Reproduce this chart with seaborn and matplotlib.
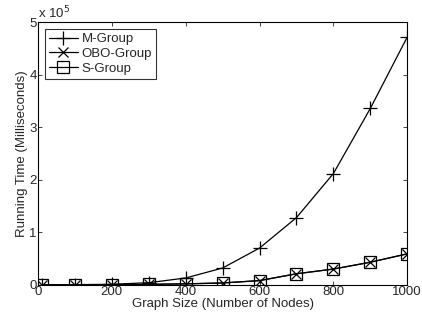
import matplotlib
matplotlib.use("Agg")
import matplotlib.pyplot as plt
import seaborn as sns
import pandas as pd

sizes = [10, 100, 200, 300, 400, 500, 600, 700, 800, 900, 1000]
m_group = [0.0, 300, 1000, 4000, 13000, 32000, 70000, 128000, 212000, 336000, 472000]
obo_group = [0.0, 100, 300, 800, 1800, 3500, 8000, 21000, 30000, 43000, 59000]
s_group = [0.0, 100, 300, 800, 1800, 3500, 8000, 21000, 30000, 43000, 59000]

sns.set_style("white")
plt.rcParams['font.family'] = ['Liberation Sans', 'DejaVu Sans']
FS = 9.5

fig = plt.figure(figsize=(4.22, 3.2), dpi=100)
ax = fig.add_axes([0.09, 0.11, 0.875, 0.82])

df = pd.DataFrame({"size": sizes, "M": m_group, "OBO": obo_group, "S": s_group})
common = dict(ax=ax, color="k", markeredgecolor="k", markeredgewidth=0.9, linewidth=0.9)
sns.lineplot(data=df, x="size", y="M", marker="+", markersize=10, label="M-Group", **common)
sns.lineplot(data=df, x="size", y="OBO", marker="x", markersize=7, label="OBO-Group", **common)
sns.lineplot(data=df, x="size", y="S", marker="s", markersize=9, markerfacecolor="none",
             label="S-Group", **common)

ax.set_xlim(0, 1000)
ax.set_ylim(0, 500000)
ax.set_xticks([0, 200, 400, 600, 800, 1000])
ax.set_yticks([0, 100000, 200000, 300000, 400000, 500000])
ax.set_yticklabels(["0", "1", "2", "3", "4", "5"])
ax.text(0.0, 1.005, r"x 10$^5$", transform=ax.transAxes, fontsize=FS, ha="left", va="bottom")
ax.set_xlabel("Graph Size (Number of Nodes)", fontsize=FS, labelpad=0)
ax.set_ylabel("Running Time (Milliseconds)", fontsize=FS, labelpad=1)
ax.tick_params(direction="in", length=3, width=0.6, labelsize=FS, pad=1,
               top=True, right=True, bottom=True, left=True)
for s in ax.spines.values():
    s.set_color("k")
    s.set_linewidth(0.8)

leg = ax.legend(loc="upper left", fontsize=FS, frameon=True, fancybox=False,
                edgecolor="k", handlelength=2.2, borderaxespad=0.5,
                labelspacing=0.2, handletextpad=0.3, borderpad=0.3)
leg.get_frame().set_linewidth(0.8)

fig.savefig("out.png", dpi=100)
